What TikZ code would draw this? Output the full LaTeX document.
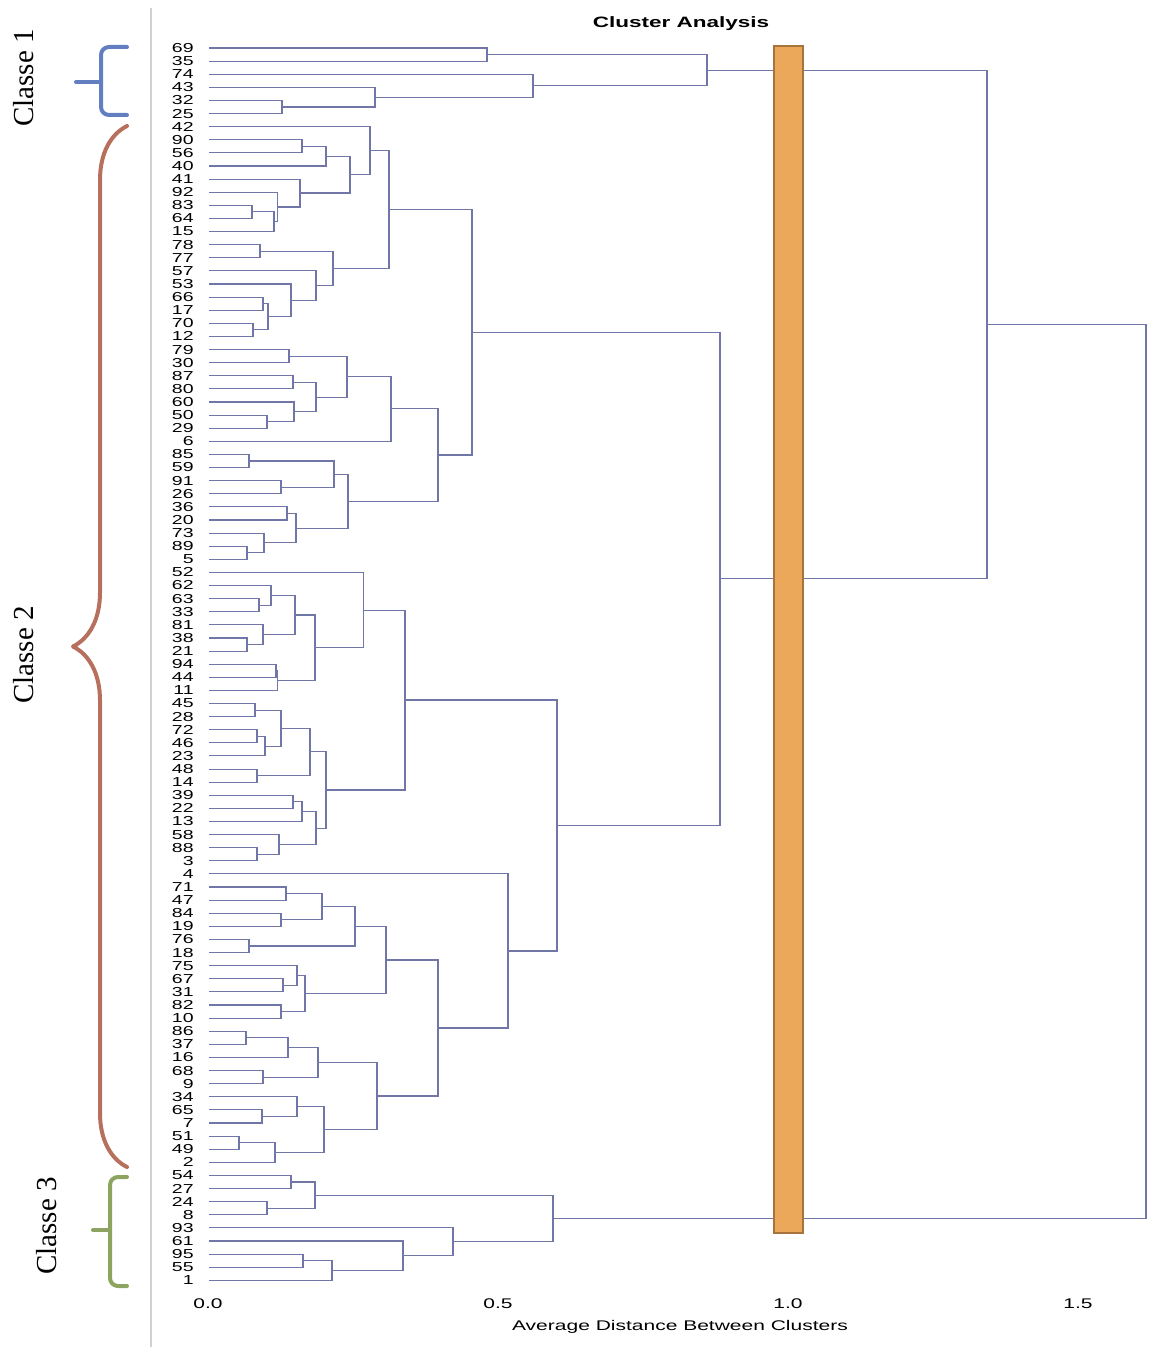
\documentclass[tikz,border=0pt]{standalone}
\usepackage{fontspec}
\setmainfont{Liberation Serif}
\newfontfamily\plotfont[FakeStretch=1.5]{Liberation Sans}
\usepackage{tikz}
\usetikzlibrary{calc,decorations.pathreplacing}

\definecolor{linkc}{RGB}{112,118,168}
\definecolor{barfill}{RGB}{236,168,90}
\definecolor{bardraw}{RGB}{168,116,62}
\definecolor{clone}{RGB}{96,126,192}
\definecolor{cltwo}{RGB}{184,112,94}
\definecolor{clthree}{RGB}{140,164,96}

% join two clusters #2,#3 into #1 at horizontal position #4
\newcommand\dmerge[4]{%
  \coordinate (#1m) at ($(#2)!.5!(#3)$);
  \coordinate (#1x) at (#4,0);
  \coordinate (#1) at (#1m -| #1x);
  \draw[link] (#2) -| (#1) |- (#3);
}

\begin{document}
\begin{tikzpicture}[x=0.5pt,y=-0.5pt,
  link/.style={draw=linkc,line width=0.55pt},
  leaf/.style={anchor=east,inner sep=0pt,font=\plotfont\fontsize{6.5}{7}\selectfont},
  tick/.style={inner sep=0pt,font=\plotfont\fontsize{7}{8}\selectfont},
  classbrace/.style={line width=2pt,line cap=round,line join=round},
  classlab/.style={rotate=90,inner sep=0pt,font=\fontsize{14.5}{16}\selectfont}]
\useasboundingbox (0,0) rectangle (1151,1347);
\draw[black!18,line width=1pt] (151,8)--(151,1347);

% leaves
\foreach \lab [count=\i from 0] in {69,35,74,43,32,25,42,90,56,40,41,92,83,64,15,78,77,57,53,66,17,70,12,
  79,30,87,80,60,50,29,6,85,59,91,26,36,20,73,89,5,52,62,63,33,81,38,21,94,44,11,45,28,72,46,23,48,14,
  39,22,13,58,88,3,4,71,47,84,19,76,18,75,67,31,82,10,86,37,16,68,9,34,65,7,51,49,2,
  54,27,24,8,93,61,95,55,1} {
  \coordinate (v\lab) at (209,{48+13.11*\i});
  \node[leaf] (t\lab) at (194,{48+13.11*\i}) {\lab};
}

% classe 1
\dmerge{k1}{v69}{v35}{487}
\dmerge{k2}{v32}{v25}{282}
\dmerge{k3}{v43}{k2}{375}
\dmerge{k4}{v74}{k3}{533}
\dmerge{k5}{k1}{k4}{707}
% classe 2, upper part
\dmerge{k6}{v90}{v56}{302}
\dmerge{k7}{k6}{v40}{326}
\dmerge{k8}{v83}{v64}{252}
\dmerge{k9}{k8}{v15}{274}
\dmerge{k10}{v92}{k9}{277.5}
\dmerge{k11}{v41}{k10}{300}
\dmerge{k12}{k7}{k11}{350}
\dmerge{k13}{v42}{k12}{370}
\dmerge{k14}{v78}{v77}{260}
\dmerge{k15}{v66}{v17}{263}
\dmerge{k16}{v70}{v12}{253}
\dmerge{k17}{k15}{k16}{268}
\dmerge{k18}{v53}{k17}{291}
\dmerge{k19}{v57}{k18}{316}
\dmerge{k20}{k14}{k19}{333}
\dmerge{k21}{k13}{k20}{389}
\dmerge{k22}{v79}{v30}{289}
\dmerge{k23}{v87}{v80}{293}
\dmerge{k24}{v50}{v29}{267}
\dmerge{k25}{v60}{k24}{294}
\dmerge{k26}{k23}{k25}{316}
\dmerge{k27}{k22}{k26}{347}
\dmerge{k28}{k27}{v6}{391}
\dmerge{k29}{v85}{v59}{249}
\dmerge{k30}{v91}{v26}{281}
\dmerge{k31}{k29}{k30}{334}
\dmerge{k32}{v36}{v20}{287}
\dmerge{k33}{v89}{v5}{247}
\dmerge{k34}{v73}{k33}{264}
\dmerge{k35}{k32}{k34}{296}
\dmerge{k36}{k31}{k35}{348}
\dmerge{k37}{k28}{k36}{438}
\dmerge{k38}{k21}{k37}{472}
% classe 2, lower part
\dmerge{k39}{v63}{v33}{259}
\dmerge{k40}{v62}{k39}{271}
\dmerge{k41}{v38}{v21}{247}
\dmerge{k42}{v81}{k41}{263}
\dmerge{k43}{k40}{k42}{295}
\dmerge{k44}{v94}{v44}{276}
\dmerge{k45}{k44}{v11}{277.5}
\dmerge{k46}{k43}{k45}{315}
\dmerge{k47}{v52}{k46}{363.5}
\dmerge{k48}{v45}{v28}{255}
\dmerge{k49}{v72}{v46}{257}
\dmerge{k50}{k49}{v23}{265}
\dmerge{k51}{k48}{k50}{281}
\dmerge{k52}{v48}{v14}{257}
\dmerge{k53}{k51}{k52}{310}
\dmerge{k54}{v39}{v22}{293}
\dmerge{k55}{k54}{v13}{302}
\dmerge{k56}{v88}{v3}{257}
\dmerge{k57}{v58}{k56}{279}
\dmerge{k58}{k55}{k57}{316}
\dmerge{k59}{k53}{k58}{326}
\dmerge{k60}{k47}{k59}{405}
\dmerge{k61}{v71}{v47}{286}
\dmerge{k62}{v84}{v19}{281}
\dmerge{k63}{k61}{k62}{322}
\dmerge{k64}{v76}{v18}{249}
\dmerge{k65}{k63}{k64}{355}
\dmerge{k66}{v67}{v31}{283}
\dmerge{k67}{v75}{k66}{297}
\dmerge{k68}{v82}{v10}{281}
\dmerge{k69}{k67}{k68}{305}
\dmerge{k70}{k65}{k69}{386}
\dmerge{k71}{v86}{v37}{246}
\dmerge{k72}{k71}{v16}{288}
\dmerge{k73}{v68}{v9}{263}
\dmerge{k74}{k72}{k73}{318}
\dmerge{k75}{v65}{v7}{262}
\dmerge{k76}{v34}{k75}{297}
\dmerge{k77}{v51}{v49}{239}
\dmerge{k78}{k77}{v2}{275}
\dmerge{k79}{k76}{k78}{324}
\dmerge{k80}{k74}{k79}{377}
\dmerge{k81}{k70}{k80}{438}
\dmerge{k82}{v4}{k81}{508}
\dmerge{k83}{k60}{k82}{557}
\dmerge{k84}{k38}{k83}{720}
\dmerge{k85}{k5}{k84}{987}
% classe 3
\dmerge{k86}{v54}{v27}{291}
\dmerge{k87}{v24}{v8}{267}
\dmerge{k88}{k86}{k87}{315}
\dmerge{k89}{v95}{v55}{303}
\dmerge{k90}{k89}{v1}{332}
\dmerge{k91}{v61}{k90}{403}
\dmerge{k92}{v93}{k91}{453}
\dmerge{k93}{k88}{k92}{553}
\dmerge{root}{k85}{k93}{1146}

% cut level
\draw[fill=barfill,draw=bardraw,line width=1.2pt] (774,46) rectangle (803,1233);

\node[font=\plotfont\bfseries\fontsize{7.5}{9}\selectfont] (title) at (681,24) {Cluster Analysis};
\foreach \v/\lab in {0/0.0,0.5/0.5,1/1.0,1.5/1.5} {
  \node[tick] (x\lab) at ({208+580*\v},1304) {\lab};
}
\node[tick] (xtitle) at (680,1327) {Average Distance Between Clusters};

% classes
\draw[classbrace,clone,rounded corners=4pt] (127,47) -| (101,115) -- (127,115);
\draw[classbrace,clone] (101,82) -- (76,82);
\draw[classbrace,cltwo,decorate,decoration={brace,amplitude=27pt}] (127,1167)--(127,126);
\draw[classbrace,clthree,rounded corners=4pt] (127,1177) -| (110,1286) -- (127,1286);
\draw[classbrace,clthree] (110,1230) -- (93,1230);
\node[classlab] (c1) at (24,78) {Classe 1};
\node[classlab] (c2) at (24,655) {Classe 2};
\node[classlab] (c3) at (47,1226) {Classe 3};
\end{tikzpicture}
\end{document}
